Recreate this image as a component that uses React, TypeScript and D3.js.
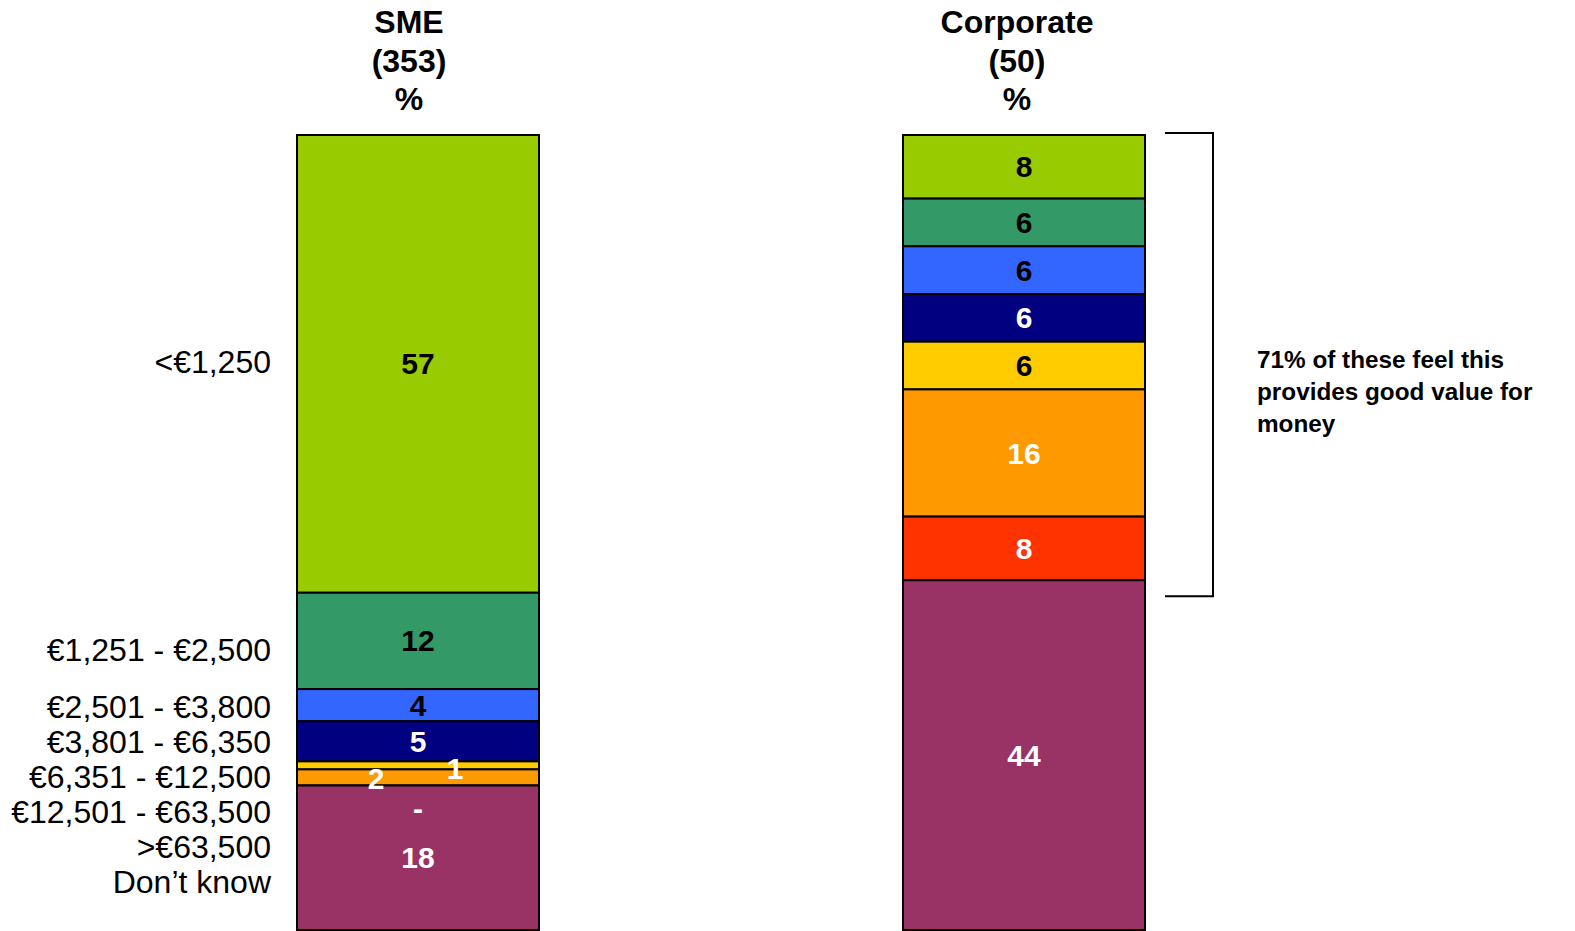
import React from "react";
import * as d3 from "d3";

const categories = [
  "<€1,250",
  "€1,251 - €2,500",
  "€2,501 - €3,800",
  "€3,801 - €6,350",
  "€6,351 - €12,500",
  "€12,501 - €63,500",
  ">€63,500",
  "Don’t know",
];
const colors = ["#99CC00", "#339966", "#3366FF", "#000080", "#FFCC00", "#FF9900", "#FF3300", "#993366"];
const smeValues = [57, 12, 4, 5, 1, 2, 0, 18];
const corpValues = [8, 6, 6, 6, 6, 16, 8, 44];
const smeTextColors = ["#000", "#000", "#000", "#fff", "#fff", "#fff", "#fff", "#fff"];
const corpTextColors = ["#000", "#000", "#000", "#fff", "#000", "#fff", "#fff", "#fff"];
const groups = ["SME", "Corporate"];
const headers = [
  ["SME", "(353)", "%"],
  ["Corporate", "(50)", "%"],
];
const annotation = ["71% of these feel this", "provides good value for", "money"];

const W = 1575;
const H = 931;
const FONT = "Arial, 'Liberation Sans', Helvetica, sans-serif";

export default function App() {
  const x = d3.scalePoint().domain(groups).range([418, 1024]);
  const bw = 242;
  const allValues = [smeValues, corpValues];

  const bars = allValues.map((vals) => {
    const total = d3.sum(vals);
    const y = d3.scaleLinear().domain([0, total]).range([135, 930]);
    let acc = 0;
    const segs = vals.map((v) => {
      const s = acc;
      acc += v;
      return { v, y0: y(s), y1: y(acc), cy: (y(s) + y(acc)) / 2 };
    });
    return { y, segs };
  });

  const smeCx = x("SME")!;
  const corpCx = x("Corporate")!;
  const sme = bars[0].segs;
  const corp = bars[1].segs;

  const smeLabelPos = sme.map((d) => {
    if (d.v === 1) return { lx: smeCx + 37, ly: d.cy + 3 };
    if (d.v === 2) return { lx: smeCx - 42, ly: d.cy + 1 };
    if (d.v === 0) return { lx: smeCx, ly: d.y0 + 23 };
    return { lx: smeCx, ly: d.cy };
  });

  const catY = categories.map((_, i) => {
    if (i === 0) return sme[0].cy - 2;
    if (i === 1) return sme[1].cy + 9;
    return sme[2].cy + 2 + 35 * (i - 2);
  });

  const bracketTop = bars[1].y(0) - 2;
  const bracketBottom = corp[6].y1 + 16;

  return (
    <svg width={W} height={H} style={{ position: "absolute", left: 0, top: 0 }} fontFamily={FONT}>
      <rect width={W} height={H} fill="#fff" />
      {headers.map((lines, k) => {
        const cx = x(groups[k])! - (k === 0 ? 9 : 7);
        return lines.map((t, j) => (
          <text key={`h${k}${j}`} x={cx} y={22 + j * 38.7} textAnchor="middle" dominantBaseline="central"
            fontWeight="bold" fontSize={32} fill="#000">{t}</text>
        ));
      })}
      {sme.map((d, i) =>
        d.v > 0 ? (
          <rect key={`s${i}`} x={smeCx - bw / 2} y={d.y0} width={bw} height={d.y1 - d.y0} fill={colors[i]}
            stroke="#000" strokeWidth={2} />
        ) : null
      )}
      {sme.map((d, i) => (
        <text key={`sl${i}`} x={smeLabelPos[i].lx} y={smeLabelPos[i].ly} textAnchor="middle"
          dominantBaseline="central" fontWeight="bold" fontSize={30} fill={smeTextColors[i]}>
          {d.v === 0 ? "-" : d.v}
        </text>
      ))}
      {corp.map((d, i) => (
        <rect key={`c${i}`} x={corpCx - bw / 2} y={d.y0} width={bw} height={d.y1 - d.y0} fill={colors[i]}
          stroke="#000" strokeWidth={2} />
      ))}
      {corp.map((d, i) => (
        <text key={`cl${i}`} x={corpCx} y={d.cy} textAnchor="middle"
          dominantBaseline="central" fontWeight="bold" fontSize={30} fill={corpTextColors[i]}>
          {d.v}
        </text>
      ))}
      {categories.map((c, i) => (
        <text key={`cat${i}`} x={271} y={catY[i]} textAnchor="end" dominantBaseline="central"
          fontSize={32} fill="#000">{c}</text>
      ))}
      <path d={`M1165,${bracketTop}H1213V${bracketBottom}H1165`} fill="none" stroke="#000" strokeWidth={2} />
      {annotation.map((t, j) => (
        <text key={`a${j}`} x={1257} y={359 + j * 32} dominantBaseline="central" fontWeight="bold"
          fontSize={24.3} fill="#000">{t}</text>
      ))}
    </svg>
  );
}
